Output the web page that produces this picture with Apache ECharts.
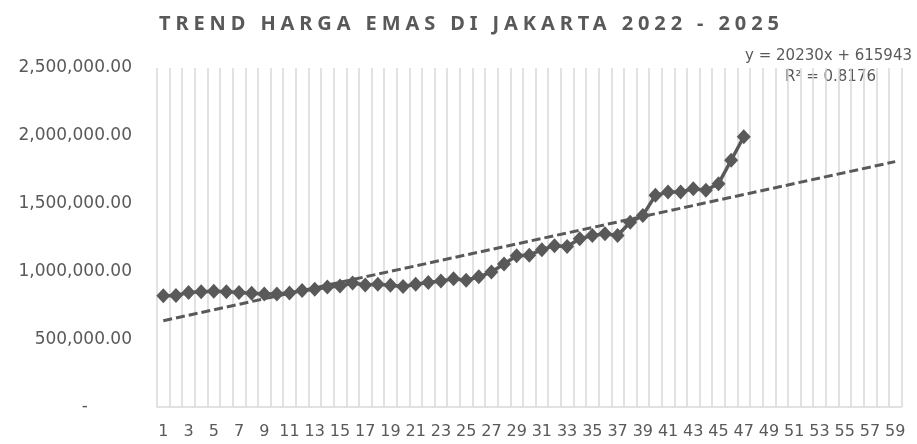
<!DOCTYPE html>
<html>
<head>
<meta charset="utf-8">
<script src="https://cdn.jsdelivr.net/npm/echarts@6/dist/echarts.min.js"></script>
<style>
html,body{margin:0;padding:0;background:#ffffff;}
#chart{width:917px;height:444px;}
</style>
</head>
<body>
<div id="chart"></div>
<script>
const titleText = 'TREND HARGA EMAS DI JAKARTA 2022 - 2025';

const categories = ['1','2','3','4','5','6','7','8','9','10','11','12','13','14','15','16','17','18','19','20',
  '21','22','23','24','25','26','27','28','29','30','31','32','33','34','35','36','37','38','39','40',
  '41','42','43','44','45','46','47','48','49','50','51','52','53','54','55','56','57','58','59'];

const goldPrice = [820000, 822000, 845000, 850000, 853000, 850000, 845000, 838000, 834000, 834000,
  840000, 860000, 868000, 885000, 892000, 915000, 900000, 905000, 898000, 888000,
  905000, 918000, 930000, 945000, 935000, 960000, 995000, 1055000, 1115000, 1120000,
  1160000, 1190000, 1183000, 1240000, 1265000, 1277000, 1265000, 1363000, 1413000, 1561000,
  1585000, 1585000, 1610000, 1598000, 1647000, 1820000, 1993000];

// linear trendline end values (category 1 and category 59)
const trendStartCategory = 0;
const trendEndCategory = 58;
const trendValues = [636173, 1809513];

const yMin = 0;
const yMax = 2500000;
const yInterval = 500000;

const trendLabelLines = ['y = 20230x + 615943', 'R\u00B2 = 0.8176'];

// expanded character spacing for the chart title (as in the original chart style)
(function () {
  const proto = CanvasRenderingContext2D.prototype;
  const origFill = proto.fillText;
  proto.fillText = function (t, x, y, w) {
    if (t === titleText && 'letterSpacing' in this) {
      const prev = this.letterSpacing;
      this.letterSpacing = '0px';
      const base = this.measureText(t).width;
      const sp = Math.max(0, (620 - base) / (t.length - 1));
      this.letterSpacing = sp + 'px';
      origFill.call(this, t, x, y);
      this.letterSpacing = prev;
      return;
    }
    return w === undefined ? origFill.call(this, t, x, y) : origFill.call(this, t, x, y, w);
  };
})();

const grey = '#595959';
const gridGrey = '#d9d9d9';
const labelFont = 'DejaVu Sans';

const chart = echarts.init(document.getElementById('chart'), null, {renderer: 'canvas'});
chart.setOption({
  animation: false,
  backgroundColor: '#ffffff',
  title: {
    text: titleText,
    left: 154,
    top: 9,
    textStyle: {color: grey, fontSize: 20, fontWeight: 'bold', fontFamily: 'Noto Sans'}
  },
  grid: {left: 157, right: 15.5, top: 68, bottom: 37, containLabel: false},
  xAxis: {
    type: 'category',
    data: categories,
    boundaryGap: true,
    axisLine: {show: true, lineStyle: {color: gridGrey, width: 1.5}},
    axisTick: {show: false},
    axisLabel: {interval: 1, color: grey, fontSize: 16, fontFamily: labelFont, margin: 17},
    splitLine: {show: true, interval: 0, lineStyle: {color: gridGrey, width: 1.5}}
  },
  yAxis: {
    type: 'value',
    min: yMin,
    max: yMax,
    interval: yInterval,
    axisLine: {show: false},
    axisTick: {show: false},
    splitLine: {show: false},
    axisLabel: {
      color: grey,
      fontSize: 17,
      fontFamily: labelFont,
      margin: 25,
      formatter: function (v) {
        if (v === 0) return '{dash|-}';
        return v.toLocaleString('en-US', {minimumFractionDigits: 2, maximumFractionDigits: 2});
      },
      rich: {
        dash: {color: grey, fontSize: 17, fontFamily: labelFont, padding: [0, 44, 0, 0]}
      }
    }
  },
  series: [
    {
      name: 'Harga Emas',
      type: 'line',
      data: goldPrice,
      symbol: 'diamond',
      symbolSize: [14, 15],
      showAllSymbol: true,
      itemStyle: {color: grey},
      lineStyle: {color: grey, width: 3.5},
      z: 3
    },
    {
      name: 'Linear',
      type: 'line',
      data: [[trendStartCategory, trendValues[0]], [trendEndCategory, trendValues[1]]],
      symbol: 'none',
      lineStyle: {color: grey, width: 3, type: [9, 4]},
      z: 2
    }
  ],
  graphic: [
    {type: 'text', right: 5, top: 49, style: {text: trendLabelLines[0], fill: grey, font: '15px "DejaVu Sans"'}},
    {type: 'text', right: 41, top: 70, style: {text: trendLabelLines[1], fill: grey, font: '15px "DejaVu Sans"'}}
  ]
});
</script>
</body>
</html>
